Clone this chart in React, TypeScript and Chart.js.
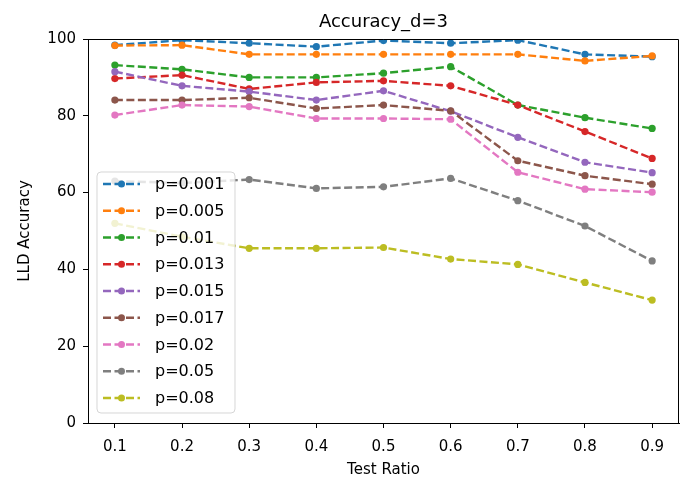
import React, { useEffect, useRef } from "react";
import { Chart, registerables } from "chart.js";

Chart.register(...registerables);

const testRatios = [0.1, 0.2, 0.3, 0.4, 0.5, 0.6, 0.7, 0.8, 0.9];
const seriesLabels = ["p=0.001", "p=0.005", "p=0.01", "p=0.013", "p=0.015", "p=0.017", "p=0.02", "p=0.05", "p=0.08"];
const acc_p001 = [98.4, 99.7, 98.9, 98.0, 99.6, 98.9, 99.7, 96.0, 95.4];
const acc_p005 = [98.3, 98.4, 96.0, 96.0, 96.0, 96.0, 96.0, 94.3, 95.6];
const acc_p01 = [93.2, 92.1, 90.0, 90.0, 91.1, 92.8, 82.8, 79.5, 76.7];
const acc_p013 = [89.7, 90.6, 87.0, 88.7, 89.1, 87.8, 82.8, 75.9, 68.9];
const acc_p015 = [91.5, 87.8, 86.3, 84.1, 86.5, 81.2, 74.4, 67.9, 65.2];
const acc_p017 = [84.1, 84.1, 84.7, 81.9, 82.8, 81.3, 68.3, 64.4, 62.2];
const acc_p02 = [80.2, 82.8, 82.4, 79.3, 79.3, 79.1, 65.3, 60.9, 60.1];
const acc_p05 = [63.0, 62.5, 63.4, 61.1, 61.5, 63.7, 57.9, 51.3, 42.2];
const acc_p08 = [52.0, 48.5, 45.5, 45.5, 45.7, 42.7, 41.3, 36.6, 32.0];
const yTicks = [0, 20, 40, 60, 80, 100];

const allSeries = [acc_p001, acc_p005, acc_p01, acc_p013, acc_p015, acc_p017, acc_p02, acc_p05, acc_p08];
const palette = ["#1f77b4", "#ff7f0e", "#2ca02c", "#d62728", "#9467bd", "#8c564b", "#e377c2", "#7f7f7f", "#bcbd22"];

const FONT = "'DejaVu Sans', sans-serif";
const DASH = [8, 3.5];
const LINE_W = 2.4;

// Title, axis titles, outer frame and a translucent legend drawn over the lines
const decorations = {
  id: "decorations",
  afterDatasetsDraw(chart: any) {
    const ctx = chart.ctx as CanvasRenderingContext2D;
    const a = chart.chartArea;
    ctx.save();
    // frame top/right
    ctx.strokeStyle = "#000";
    ctx.lineWidth = 1;
    ctx.beginPath();
    ctx.moveTo(a.left, a.top + 0.5);
    ctx.lineTo(a.right - 0.5, a.top + 0.5);
    ctx.lineTo(a.right - 0.5, a.bottom);
    ctx.stroke();

    // title
    ctx.fillStyle = "#000";
    ctx.font = `18px ${FONT}`;
    ctx.textAlign = "center";
    ctx.textBaseline = "alphabetic";
    ctx.fillText("Accuracy_d=3", (a.left + a.right) / 2, 27);

    // axis titles
    ctx.font = `15px ${FONT}`;
    ctx.fillText("Test Ratio", (a.left + a.right) / 2, 474);
    ctx.save();
    ctx.translate(29, (a.top + a.bottom) / 2);
    ctx.rotate(-Math.PI / 2);
    ctx.fillText("LLD Accuracy", 0, 0);
    ctx.restore();

    // legend
    const bx = 97, by = 172, bw = 138, bh = 241, r = 4;
    ctx.beginPath();
    ctx.moveTo(bx + r, by);
    ctx.arcTo(bx + bw, by, bx + bw, by + bh, r);
    ctx.arcTo(bx + bw, by + bh, bx, by + bh, r);
    ctx.arcTo(bx, by + bh, bx, by, r);
    ctx.arcTo(bx, by, bx + bw, by, r);
    ctx.closePath();
    ctx.fillStyle = "rgba(255,255,255,0.8)";
    ctx.fill();
    ctx.strokeStyle = "rgba(204,204,204,0.8)";
    ctx.lineWidth = 1;
    ctx.stroke();

    ctx.font = `16px ${FONT}`;
    ctx.textAlign = "left";
    ctx.textBaseline = "middle";
    seriesLabels.forEach((label, i) => {
      const y = 184 + i * 26.75;
      ctx.strokeStyle = palette[i];
      ctx.lineWidth = LINE_W;
      ctx.setLineDash(DASH);
      ctx.beginPath();
      ctx.moveTo(103, y);
      ctx.lineTo(140, y);
      ctx.stroke();
      ctx.setLineDash([]);
      ctx.fillStyle = palette[i];
      ctx.beginPath();
      ctx.arc(121.5, y, 3.5, 0, Math.PI * 2);
      ctx.fill();
      ctx.fillStyle = "#000";
      ctx.fillText(label, 155, y + 1);
    });
    ctx.restore();
  },
};

export default function App() {
  const canvasRef = useRef<HTMLCanvasElement>(null);

  useEffect(() => {
    document.body.style.margin = "0";
    const canvas = canvasRef.current;
    if (!canvas) return;

    const datasets = allSeries.map((vals, i) => ({
      label: seriesLabels[i],
      data: testRatios.map((x, j) => ({ x, y: vals[j] })),
      borderColor: palette[i],
      backgroundColor: palette[i],
      borderWidth: LINE_W,
      borderDash: DASH,
      pointRadius: 3.6,
      pointBorderWidth: 0,
      pointBackgroundColor: palette[i],
      fill: false,
      tension: 0,
      order: allSeries.length - i,
    }));

    const chart = new Chart(canvas, {
      type: "line",
      data: { datasets },
      plugins: [decorations],
      options: {
        animation: false,
        responsive: false,
        devicePixelRatio: 1,
        layout: { padding: { top: 39, right: 9, left: 0, bottom: 0 } },
        plugins: {
          legend: { display: false },
          title: { display: false },
          tooltip: { enabled: false },
        },
        scales: {
          x: {
            type: "linear",
            min: 0.06,
            max: 0.94,
            afterBuildTicks: (scale: any) => {
              scale.ticks = testRatios.map((v) => ({ value: v }));
            },
            afterFit: (scale: any) => {
              scale.height = 59;
            },
            ticks: {
              color: "#000",
              font: { family: FONT, size: 15 },
              padding: 10,
              maxRotation: 0,
              autoSkip: false,
              callback: (v: any) => Number(v).toFixed(1),
            },
            grid: { drawOnChartArea: false, tickLength: 5, tickColor: "#000", tickWidth: 1 },
            border: { color: "#000", width: 1 },
          },
          y: {
            type: "linear",
            min: 0,
            max: 100,
            afterBuildTicks: (scale: any) => {
              scale.ticks = yTicks.map((v) => ({ value: v }));
            },
            afterFit: (scale: any) => {
              scale.width = 88;
            },
            ticks: {
              color: "#000",
              font: { family: FONT, size: 15 },
              padding: 7,
              callback: (v: any) => String(v),
            },
            grid: { drawOnChartArea: false, tickLength: 5, tickColor: "#000", tickWidth: 1 },
            border: { color: "#000", width: 1 },
          },
        },
      },
    } as any);

    return () => chart.destroy();
  }, []);

  return (
    <div style={{ position: "relative", width: 688, height: 482, background: "#fff" }}>
      <canvas ref={canvasRef} width={688} height={482} style={{ display: "block" }} />
    </div>
  );
}
